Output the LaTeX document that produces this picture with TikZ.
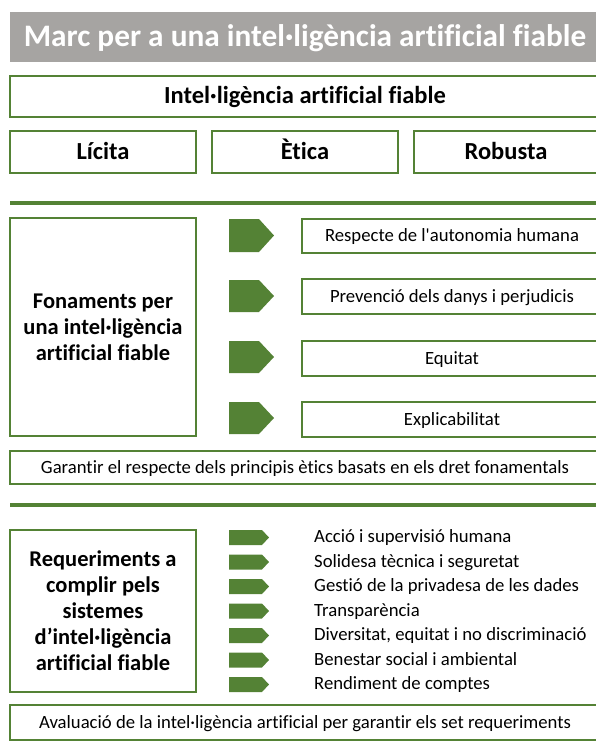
\documentclass[tikz,border=0pt]{standalone}
\usepackage{fontspec}
\setmainfont{Carlito}[Ligatures=NoCommon]
\definecolor{grn}{RGB}{84,130,53}
\definecolor{titlegray}{RGB}{166,164,162}

\begin{document}
\begin{tikzpicture}[x=1pt,y=-1pt,
  box/.style={draw=grn, line width=2pt, inner sep=0pt, align=center},
  sep/.style={draw=grn, line width=4pt},
  chev/.style={fill=grn},
  head/.style={font=\fontsize{24.5}{28}\selectfont\bfseries, text height=17pt, text depth=3pt},
  side/.style={font=\fontsize{22.5}{26}\selectfont\bfseries},
  body/.style={font=\fontsize{18.7}{22}\selectfont, text height=14pt, text depth=3pt}]
\useasboundingbox (0,0) rectangle (595,755);
\node [fill=titlegray, text=white, minimum width=590, minimum height=50, inner sep=0pt,
  text height=22pt, text depth=4pt,
  font=\fontsize{31.3}{34}\selectfont\bfseries] (title) at (305,37) {Marc per a una intel·ligència artificial fiable};
\node [box, head, minimum width=590, minimum height=41] (iaf) at (305,96.5) {Intel·ligència artificial fiable};
\node [box, head, minimum width=186, minimum height=42] (licita) at (103,152) {Lícita};
\node [box, head, minimum width=186, minimum height=42] (etica) at (305,152) {Ètica};
\node [box, head, minimum width=184, minimum height=42] (robusta) at (506,152) {Robusta};
\draw [sep] (10,203)--(600,203);
% fonaments
\node [box, side, minimum width=186, minimum height=218] (fonaments) at (103,327) {Fonaments per\\una intel·ligència\\artificial fiable};
\fill [chev] (229,219)--(259,219)--(274,235.5)--(259,252)--(229,252)--cycle;
\fill [chev] (229,280)--(259,280)--(274,296)--(259,312)--(229,312)--cycle;
\fill [chev] (229,341)--(259,341)--(274,357)--(259,373)--(229,373)--cycle;
\fill [chev] (229,402)--(259,402)--(274,418)--(259,434)--(229,434)--cycle;
\node [box, body, minimum width=300, minimum height=34] (p1) at (452,236) {Respecte de l\textquotesingle autonomia humana};
\node [box, body, minimum width=300, minimum height=35] (p2) at (452,296.5) {Prevenció dels danys i perjudicis};
\node [box, body, minimum width=300, minimum height=35] (p3) at (452,358.5) {Equitat};
\node [box, body, minimum width=300, minimum height=35] (p4) at (452,419.5) {Explicabilitat};
\node [box, body, minimum width=590, minimum height=33] (garantir) at (305,467.5) {Garantir el respecte dels principis ètics basats en els dret fonamentals};
\draw [sep] (10,505)--(600,505);
% requeriments
\node [box, side, minimum width=186, minimum height=162] (requeriments) at (103,611) {Requeriments a\\complir pels\\sistemes\\d’intel·ligència\\artificial fiable};
\fill [chev] (229,530)--(262,530)--(269,537.5)--(262,545)--(229,545)--cycle;
\fill [chev] (229,554.5)--(262,554.5)--(269,562)--(262,569.5)--(229,569.5)--cycle;
\fill [chev] (229,579)--(262,579)--(269,586.5)--(262,594)--(229,594)--cycle;
\fill [chev] (229,603.5)--(262,603.5)--(269,611)--(262,618.5)--(229,618.5)--cycle;
\fill [chev] (229,628)--(262,628)--(269,635.5)--(262,643)--(229,643)--cycle;
\fill [chev] (229,652.5)--(262,652.5)--(269,660)--(262,667.5)--(229,667.5)--cycle;
\fill [chev] (229,677)--(262,677)--(269,684.5)--(262,692)--(229,692)--cycle;
\node [body, anchor=west, inner sep=0pt] (r1) at (314,537) {Acció i supervisió humana};
\node [body, anchor=west, inner sep=0pt] (r2) at (314,561.5) {Solidesa tècnica i seguretat};
\node [body, anchor=west, inner sep=0pt] (r3) at (314,586) {Gestió de la privadesa de les dades};
\node [body, anchor=west, inner sep=0pt] (r4) at (314,610.5) {Transparència};
\node [body, anchor=west, inner sep=0pt] (r5) at (314,635) {Diversitat, equitat i no discriminació};
\node [body, anchor=west, inner sep=0pt] (r6) at (314,659.5) {Benestar social i ambiental};
\node [body, anchor=west, inner sep=0pt] (r7) at (314,684) {Rendiment de comptes};
\node [box, body, minimum width=590, minimum height=35] (avaluacio) at (305,722.5) {Avaluació de la intel·ligència artificial per garantir els set requeriments};
\end{tikzpicture}
\end{document}
